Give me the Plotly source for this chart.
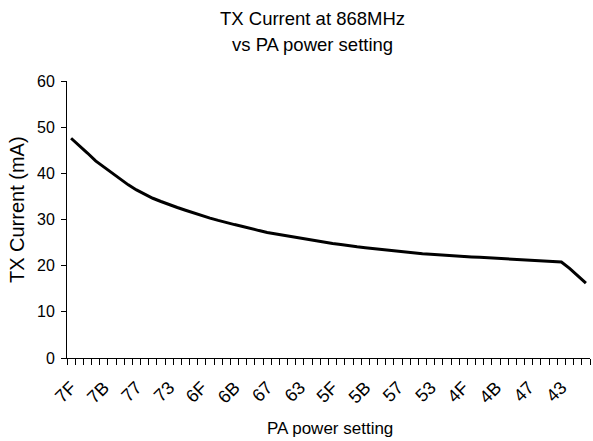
import plotly.graph_objects as go

categories = ["7F", "7E", "7D", "7C", "7B", "7A", "79", "78", "77", "76", "75", "74",
              "73", "72", "71", "70", "6F", "6E", "6D", "6C", "6B", "6A", "69", "68",
              "67", "66", "65", "64", "63", "62", "61", "60", "5F", "5E", "5D", "5C",
              "5B", "5A", "59", "58", "57", "56", "55", "54", "53", "52", "51", "50",
              "4F", "4E", "4D", "4C", "4B", "4A", "49", "48", "47", "46", "45", "44",
              "43", "42", "41", "40"]

current_ma = [47.6, 46.1, 44.4, 42.7, 41.4, 40.0, 38.6, 37.5, 36.4, 35.5, 34.6, 33.9,
              33.2, 32.6, 32.0, 31.4, 30.8, 30.3, 29.8, 29.3, 28.9, 28.5, 28.0, 27.6,
              27.2, 26.9, 26.5, 26.2, 25.9, 25.6, 25.3, 25.1, 24.8, 24.6, 24.3, 24.1,
              23.9, 23.7, 23.5, 23.3, 23.1, 22.95, 22.8, 22.6, 22.5, 22.35, 22.2, 22.1,
              22.0, 21.9, 21.8, 21.7, 21.6, 21.5, 21.4, 21.3, 21.2, 21.1, 21.0, 20.95,
              20.8, 19.4, 17.7, 16.2]

labelled = ["7F", "7B", "77", "73", "6F", "6B", "67", "63", "5F", "5B", "57", "53",
            "4F", "4B", "47", "43"]

tick_text = [c if c in labelled else "" for c in categories]

title_lines = ["TX Current at 868MHz", "vs PA power setting"]
x_title = "PA power setting"
y_title = "TX Current (mA)"

font_family = "Liberation Sans, Arial, sans-serif"

fig = go.Figure()
fig.add_trace(go.Scatter(
    x=categories, y=current_ma, mode="lines",
    line=dict(color="black", width=3),
    showlegend=False,
))

fig.update_layout(
    width=593, height=441,
    margin=dict(l=67, r=3, t=81, b=83),
    paper_bgcolor="white", plot_bgcolor="white",
    font=dict(family=font_family, size=16, color="black"),
)

fig.add_annotation(text=title_lines[0], xref="paper", yref="paper",
                   x=0.470, y=1.2255, xanchor="center", yanchor="middle",
                   showarrow=False, font=dict(size=18.5))
fig.add_annotation(text=title_lines[1], xref="paper", yref="paper",
                   x=0.470, y=1.1327, xanchor="center", yanchor="middle",
                   showarrow=False, font=dict(size=18.5))
fig.add_annotation(text=x_title, xref="paper", yref="paper",
                   x=0.503, y=-0.256, xanchor="center", yanchor="middle",
                   showarrow=False, font=dict(size=17))
fig.add_annotation(text=y_title, xref="paper", yref="paper",
                   x=-0.0956, y=0.534, xanchor="center", yanchor="middle",
                   textangle=-90, showarrow=False, font=dict(size=20))

fig.update_xaxes(
    type="category",
    categoryorder="array", categoryarray=categories,
    range=[-0.5, len(categories) - 0.5],
    tickmode="array", tickvals=categories, ticktext=tick_text,
    tickson="boundaries",
    ticks="outside", ticklen=6, tickcolor="black", tickwidth=1,
    tickangle=-45, ticklabelstandoff=11,
    showline=True, linecolor="black", linewidth=1,
    showgrid=False, zeroline=False, automargin=False,
    tickfont=dict(family=font_family, size=18),
)

fig.update_yaxes(
    range=[0, 60], tickmode="linear", tick0=0, dtick=10,
    ticks="outside", ticklen=5, tickcolor="black", tickwidth=1,
    ticklabelstandoff=3,
    showline=True, linecolor="black", linewidth=1,
    showgrid=False, zeroline=False, automargin=False,
    tickfont=dict(family=font_family, size=16),
)

fig.write_html(
    "out.html",
    config={"displayModeBar": False},
    post_script="document.body.style.margin='0';document.body.style.overflow='hidden';",
)
